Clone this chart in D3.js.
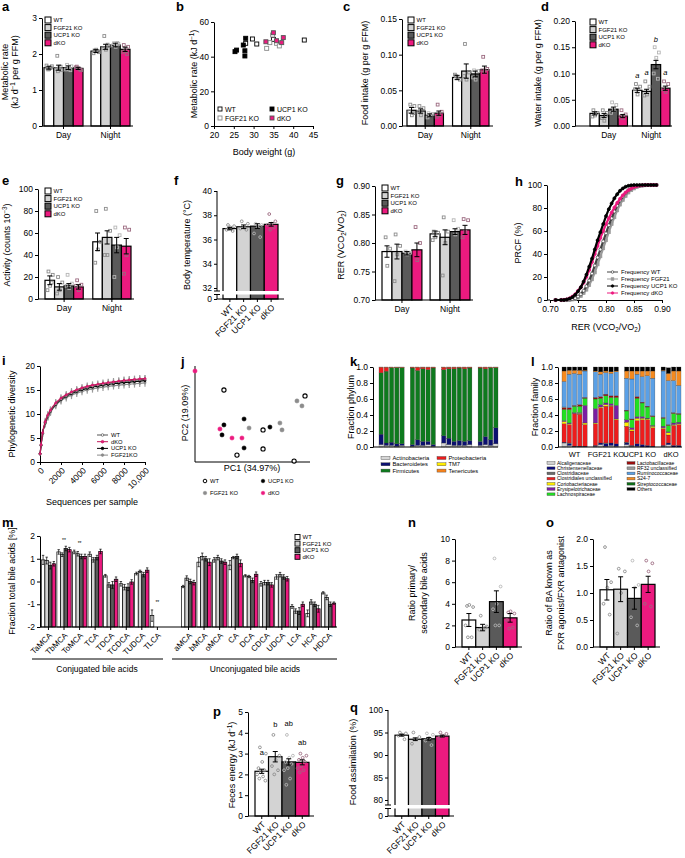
<!DOCTYPE html>
<html><head><meta charset="utf-8">
<script src="https://cdn.jsdelivr.net/npm/d3@7"></script>
<style>body{margin:0;background:#fff}svg{display:block}</style>
</head><body>
<script>
// ================= DATA =================
const genotypes=["WT","FGF21 KO","UCP1 KO","dKO"];
const periods=["Day","Night"];
const genoFill=["#ffffff","#d3d3d3","#5a5a5a","#ec1a7f"];

// a metabolic rate
const aMeans=[[1.62,1.62,1.62,1.60],[2.08,2.20,2.25,2.13]];
const aSems=[[0.04,0.07,0.05,0.03],[0.04,0.07,0.05,0.06]];
const aDots=[[[1.60,1.66,1.58,1.68,1.62,1.57],[1.95,1.55,1.60,1.58,1.65,1.52],[1.70,1.66,1.60,1.57,1.55],[1.65,1.55,1.60,1.63,1.57]],
 [[2.10,2.05,2.12,2.02,2.08],[2.50,2.22,2.12,2.16,2.26],[2.30,2.28,2.20,2.24,2.31],[2.25,2.20,2.10,2.06,2.00]]];
// b metabolic rate vs body weight
const bWTx=[28.0,29.7,30.8,35.0,42.8], bWTy=[47.7,50.2,47.3,50.0,49.6];
const bFGFx=[33.3,34.1,34.8,35.8,36.5], bFGFy=[44.8,48.1,52.5,47.7,46.2];
const bUCPx=[25.3,25.7,27.4,27.8,27.8,28.0], bUCPy=[42.9,43.8,46.7,43.4,40.4,50.6];
const bDKOx=[33.1,35.0,35.8,37.1,37.5], bDKOy=[48.6,53.8,49.2,48.1,51.0];
// c food intake
const cMeans=[[0.022,0.021,0.015,0.018],[0.068,0.077,0.073,0.079]];
const cSems=[[0.004,0.003,0.002,0.003],[0.003,0.010,0.004,0.005]];
const cDots=[[[0.030,0.028,0.015,0.020,0.018],[0.028,0.025,0.015,0.020],[0.018,0.017,0.015,0.012],[0.030,0.020,0.015,0.013]],
 [[0.070,0.065,0.067,0.072],[0.115,0.075,0.065,0.070],[0.078,0.077,0.065,0.068],[0.097,0.080,0.075,0.078]]];
// d water intake
const dMeans=[[0.024,0.020,0.032,0.019],[0.068,0.066,0.117,0.072]];
const dSems=[[0.003,0.004,0.004,0.003],[0.004,0.004,0.008,0.004]];
const dDots=[[[0.030,0.025,0.020,0.018],[0.030,0.025,0.010,0.015,0.020],[0.045,0.040,0.030,0.025],[0.030,0.022,0.015,0.018]],
 [[0.080,0.075,0.060,0.070],[0.085,0.075,0.060,0.058],[0.150,0.140,0.130,0.100,0.090],[0.085,0.080,0.065,0.070]]];
const dLetters=["a","a","b","a"], dLetterY=[0.091,0.097,0.160,0.097];
// e activity
const eMeans=[[17,11,12,11],[52,56,49,48]];
const eSems=[[4,3,2,2],[8,6,7,7]];
const eDots=[[[25,22,12,8,15],[20,15,8,5],[22,14,10,12],[17,13,8,12]],[[80,52,45,33],[82,62,40,40],[65,58,47,20],[65,63,40,23]]];
// f body temperature
const fMeans=[36.9,37.05,37.1,37.25], fSems=[0.1,0.15,0.2,0.15];
const fDots=[[37.2,37.1,37.0,36.8,36.7,36.9],[37.5,37.3,37.0,36.9,36.8],[37.3,37.2,37.0,36.5,36.2],[38.1,37.5,37.3,37.2,37.0,36.8]];
// g RER
const gMeans=[[0.785,0.785,0.782,0.788],[0.816,0.810,0.820,0.823]];
const gSems=[[0.010,0.013,0.003,0.012],[0.005,0.013,0.005,0.008]];
const gDots=[[[0.810,0.790,0.760],[0.815,0.795,0.780,0.733],[0.785,0.783,0.780],[0.828,0.800,0.770]],
 [[0.820,0.818,0.810,0.805],[0.845,0.820,0.800,0.743],[0.840,0.825,0.815],[0.842,0.840,0.820,0.810]]];
// h cumulative frequency of RER
const hRER=[0.710,0.720,0.725,0.730,0.735,0.740,0.745,0.750,0.755,0.760,0.765,0.770,0.775,0.780,0.785,0.790,0.795,0.800,0.805,0.810,0.815,0.820,0.825,0.830,0.835,0.840,0.845,0.850,0.855,0.860,0.865,0.870,0.875,0.880,0.885,0.890];
const hWT=[0,0,0,0,0.3,0.8,1.5,3,5,8,12,17,23,30,37,44,51,58,65,71,77,82,86.5,90,93,95.5,97,98.2,99,99.5,99.8,100,100,100,100,100];
const hFGF=[0,0,0,0,0.2,0.5,1,2,3.5,6,9,13,18,24,31,38,45,52,59,66,72,78,83,87,90.5,93.5,95.5,97,98.2,99,99.5,99.8,100,100,100,100];
const hUCP=[0,0,0,0.5,1.2,2.5,4.5,7.5,11,16,22,29,36,44,52,59,66,73,79,84,88.5,92,95,97,98.5,99.3,99.8,100,100,100,100,100,100,100,100,100];
const hDKO=[0,0,0.2,0.6,1.5,3,5,8,11,15,20,26,33,40,47,54,60,66,71,76,80.5,84.5,88,91,93.5,95.5,97,98.2,99,99.5,99.8,100,100,100,100,100];
// i rarefaction
const iSeq=[10,100,250,500,750,1000,1500,2000,2500,3000,3500,4000,4500,5000,5500,6000,6500,7000,7500,8000,8500,9000,9500,10000];
const iWT=[1.7,3.5,6.0,8.2,9.6,10.6,12.1,13.1,13.8,14.4,14.85,15.25,15.55,15.8,16.0,16.2,16.4,16.55,16.7,16.85,16.95,17.05,17.15,17.25];
const iDKO=[1.7,3.6,6.1,8.4,9.8,10.8,12.3,13.3,14.0,14.6,15.05,15.45,15.75,16.0,16.2,16.4,16.55,16.7,16.85,17.0,17.1,17.2,17.3,17.35];
const iUCP=[1.7,3.5,6.0,8.2,9.6,10.6,12.0,13.0,13.7,14.25,14.7,15.05,15.35,15.6,15.8,16.0,16.15,16.3,16.45,16.55,16.65,16.75,16.85,16.95];
const iFGF=[1.7,3.4,5.9,8.0,9.4,10.4,11.8,12.8,13.4,13.9,14.35,14.7,15.0,15.25,15.45,15.6,15.75,15.9,16.0,16.1,16.2,16.3,16.4,16.5];
const iSem=[0.3,0.5,0.7,0.8,0.8,0.8,0.8,0.8,0.8,0.8,0.8,0.8,0.8,0.8,0.8,0.8,0.8,0.8,0.8,0.8,0.8,0.8,0.8,0.8];
// j PCoA
const jWT1=[-0.049,0.155,0.019,0.155,0.374,0.317], jWT2=[0.175,-0.033,-0.164,-0.132,0.144,-0.195];
const jFGF1=[0.082,0.243,0.254,0.332,0.358], jFGF2=[-0.023,0.003,-0.033,0.118,0.092];
const jUCP1=[-0.049,-0.059,0.056,0.191,0.056], jUCP2=[-0.007,-0.059,0.024,-0.018,-0.127];
const jDKO1=[-0.200,-0.070,-0.007,0.045], jDKO2=[0.274,-0.028,-0.075,-0.075];
// k phyla (samples: 5 WT, 5 FGF21 KO, 6 UCP1 KO, 4 dKO)
const sampleCounts=[5,5,6,4];
const phyla=["Actinobacteria","Bacteroidetes","Firmicutes","Proteobacteria","TM7","Tenericutes"];
const phylaColor=["#d6d6d6","#0b1070","#0e7a1e","#ec1c1c","#ffec00","#f7821b"];
const kActino=[0.03,0.02,0.02,0.01,0.02, 0.01,0.02,0.02,0.03,0.01, 0.05,0.03,0.02,0.02,0.02,0.03, 0.02,0.03,0.02,0.04];
const kBactero=[0.13,0.03,0.04,0.03,0.02, 0.02,0.07,0.05,0.04,0.02, 0.09,0.08,0.05,0.06,0.05,0.05, 0.05,0.10,0.07,0.20];
const kFirmi=[0.767,0.897,0.932,0.952,0.952, 0.957,0.867,0.907,0.897,0.957, 0.827,0.867,0.907,0.907,0.907,0.907, 0.917,0.847,0.902,0.752];
const kProteo=[0.07,0.05,0.005,0.005,0.005, 0.01,0.04,0.02,0.03,0.01, 0.03,0.02,0.02,0.01,0.02,0.01, 0.01,0.02,0.005,0.005];
const kTM7=[0,0,0,0,0, 0,0,0,0,0, 0,0,0,0,0,0, 0,0,0,0];
const kTeneri=[0.003,0.003,0.003,0.003,0.003, 0.003,0.003,0.003,0.003,0.003, 0.003,0.003,0.003,0.003,0.003,0.003, 0.003,0.003,0.003,0.003];
// l families
const families=["Alcaligenaceae","Christensenellaceae","Clostridiaceae","Clostridiales unclassified","Coriobacteriaceae","Erysipelotrichaceae","Lachnospiraceae","Lactobacillaceae","RF32 unclassified","Ruminococcaceae","S24-7","Streptococcaceae","Others"];
const familyColor=["#d0d0d0","#0a0a7a","#6b6b6b","#ee1c1c","#ffee00","#7a1fa2","#22e022","#9b0d0d","#9a9a9a","#5aa0e6","#f58a1f","#0d6e16","#000000"];
const lAlc=[.05,.02,.00,.00,.00, .01,.03,.01,.02,.01, .03,.01,.01,.00,.00,.00, .01,.03,.00,.00];
const lChr=[.01,.02,.01,.01,.01, .01,.02,.03,.03,.03, .02,.01,.03,.03,.02,.01, .01,.02,.02,.02];
const lCld=[.00,.01,.00,.00,.00, .00,.00,.01,.00,.00, .01,.00,.00,.00,.00,.00, .00,.00,.00,.00];
const lClU=[.23,.23,.41,.40,.27, .27,.44,.46,.46,.30, .20,.18,.29,.31,.32,.23, .21,.10,.25,.26];
const lCor=[.03,.01,.00,.01,.02, .01,.01,.02,.01,.01, .05,.02,.03,.02,.01,.02, .01,.03,.01,.01];
const lEry=[.01,.01,.01,.01,.22, .18,.03,.02,.02,.17, .03,.02,.02,.02,.01,.01, .02,.01,.02,.02];
const lLac=[.14,.17,.08,.08,.09, .12,.08,.09,.08,.10, .11,.10,.23,.17,.14,.11, .10,.08,.12,.10];
const lLct=[.02,.02,.01,.02,.01, .02,.02,.02,.02,.02, .01,.01,.02,.01,.01,.01, .01,.01,.01,.01];
const lRF=[.01,.00,.00,.00,.00, .00,.00,.00,.00,.00, .00,.00,.00,.00,.00,.00, .00,.00,.00,.00];
const lRum=[.32,.42,.40,.38,.33, .32,.28,.27,.28,.30, .40,.50,.28,.32,.38,.47, .58,.55,.40,.35];
const lS24=[.13,.05,.04,.05,.01, .01,.03,.02,.02,.01, .09,.10,.04,.07,.06,.09, .01,.09,.12,.18];
const lStr=[0,0,0,0,0, 0,0,0,0,0, 0,0,0,0,0,0, 0,0,0,0];
const lOth=[.05,.05,.04,.04,.04, .05,.06,.06,.06,.05, .06,.05,.05,.05,.05,.05, .04,.07,.05,.05];
// m bile acids
const mConj=["TaMCA","TbMCA","ToMCA","TCA","TDCA","TCDCA","TUDCA","TLCA"];
const mUnconj=["aMCA","bMCA","oMCA","CA","DCA","CDCA","UDCA","LCA","HCA","HDCA"];
const mWT=[0.95,1.30,1.30,1.20,0.25,-0.10,0.35,-1.50, -0.22,0.85,0.95,0.72,0.25,-0.10,0.20,-1.10,-1.40,-0.50];
const mFGF=[0.92,1.18,1.22,0.95,-0.15,-0.25,0.45,null, 0.15,1.10,1.05,1.05,0.22,-0.05,0.30,-1.30,-0.90,-0.70];
const mUCP=[0.70,1.45,1.10,1.05,-0.15,-0.25,0.30,null, 0.00,1.00,0.90,1.10,0.05,-0.05,0.20,-1.30,-1.00,-1.00];
const mDKO=[0.78,1.40,1.10,1.32,0.10,-0.02,0.50,null, -0.05,0.85,0.85,0.80,0.32,-0.15,0.12,-1.00,-1.20,-0.95];
const mWTsem=[0.20,0.10,0.08,0.10,0.06,0.10,0.06,0.25, 0.05,0.20,0.10,0.20,0.05,0.10,0.10,0.08,0.15,0.05];
const mFGFsem=[0.15,0.08,0.10,0.10,0.10,0.12,0.05,null, 0.10,0.15,0.10,0.05,0.05,0.10,0.10,0.10,0.10,0.10];
const mUCPsem=[0.15,0.10,0.10,0.10,0.15,0.15,0.10,null, 0.10,0.10,0.10,0.10,0.10,0.10,0.10,0.15,0.10,0.10];
const mDKOsem=[0.10,0.10,0.10,0.10,0.10,0.10,0.10,null, 0.10,0.15,0.10,0.15,0.10,0.10,0.10,0.10,0.15,0.05];
const mSigNames=["TbMCA","ToMCA","TLCA"], mSigY=[1.75,1.62,-1.0], mSigText=["**","**","**"];
// n ratio primary/secondary
const nMeans=[2.5,1.8,4.2,2.7], nSems=[0.6,0.3,1.0,0.4];
const nDots=[[3.8,3.7,3.9,2.0,0.9,0.9],[2.9,1.9,1.7,1.6,1.8],[8.2,5.6,4.0,3.5,2.0,2.0],[3.2,3.1,3.3,2.5,1.8,1.7]];
// o FXR agonist/antagonist
const oMeans=[1.06,1.07,0.90,1.16], oSems=[0.19,0.23,0.20,0.15];
const oDots=[[1.85,1.2,1.1,0.8,0.6],[1.45,1.4,1.0,0.25],[1.6,1.15,1.1,0.55,0.4],[1.6,1.55,1.4,0.8,0.75]];
// p feces energy
const pMeans=[2.15,2.85,2.6,2.58], pSems=[0.1,0.25,0.15,0.12];
const pDots=[[3.3,3.0,2.6,2.3,2.2,2.1,2.0,1.9,1.8,1.7],[3.9,2.9,2.7,2.4,2.2,2.0],[3.9,2.9,2.8,2.6,2.5,2.3,2.2,1.8,1.5],[3.0,2.9,2.8,2.7,2.6,2.4,2.3,2.2,2.1]];
const pLetters=["a","b","ab","ab"], pLetterY=[2.93,4.28,4.33,3.41];
// q food assimilation
const qMeans=[94.4,93.5,93.6,94.2], qSems=[0.2,0.3,0.3,0.2];
const qDots=[[95.0,94.8,94.5,94.3,93.5],[95.0,94.0,93.5,92.5],[94.8,94.5,93.8,93.2,92.2],[95.0,94.7,94.3,93.8]];

// ================= DRAWING =================
const FONT="'Liberation Sans', Arial, Helvetica, sans-serif";
const svg=d3.select("body").append("svg").attr("width",685).attr("height",858).style("font-family",FONT);
const TF=8.5, LF=9;

function style(g,fs){
  g.select(".domain").attr("stroke","#000").attr("stroke-width",1);
  g.selectAll(".tick line").attr("stroke","#000").attr("stroke-width",1);
  g.selectAll(".tick text").attr("font-size",fs).attr("fill","#000").attr("font-family",FONT);
}
function yAxis(x,y,ticks,fmt,fs=TF,keepDomain=true){
  const g=svg.append("g").attr("transform",`translate(${x},0)`)
    .call(d3.axisLeft(y).tickValues(ticks).tickFormat(fmt||null).tickSize(3).tickSizeOuter(0).tickPadding(2));
  style(g,fs); if(!keepDomain) g.select(".domain").remove(); return g;
}
function hline(x0,x1,y,sw=1){svg.append("line").attr("x1",x0).attr("x2",x1).attr("y1",y).attr("y2",y).attr("stroke","#000").attr("stroke-width",sw);}
function vline(x,y0,y1,sw=1){svg.append("line").attr("x1",x).attr("x2",x).attr("y1",y0).attr("y2",y1).attr("stroke","#000").attr("stroke-width",sw);}
function xBandAxis(yPos,band,x0,x1,fs=TF,rotate=false,tickVals){
  const ax=d3.axisBottom(band).tickSize(3).tickSizeOuter(0).tickPadding(3);
  if(tickVals) ax.tickValues(tickVals);
  const g=svg.append("g").attr("transform",`translate(0,${yPos})`).call(ax);
  g.select(".domain").remove();
  hline(x0,x1,yPos);
  style(g,fs);
  if(rotate) g.selectAll(".tick text").attr("text-anchor","end").attr("x",0).attr("y",0).attr("dy","0.35em")
     .attr("transform","translate(2,7) rotate(-45)");
  return g;
}
function rich(x,y,parts,o={}){
  const fs=o.fs||LF;
  const t=svg.append("text").attr("x",x).attr("y",y).attr("font-size",fs).attr("text-anchor",o.anchor||"middle").attr("fill",o.fill||"#000");
  if(o.rot) t.attr("transform",`rotate(-90,${x},${y})`);
  if(o.bold) t.attr("font-weight","bold");
  if(o.italic) t.attr("font-style","italic");
  if(typeof parts==="string") parts=[[parts,""]];
  let cur=0;
  parts.forEach(([s,k])=>{
    const target=k==="sup"?-fs*0.38:k==="sub"?fs*0.25:0;
    const ts=t.append("tspan").text(s).attr("dy",target-cur);
    if(k) ts.attr("font-size",fs*0.7);
    cur=target;
  });
  return t;
}
function panelLabel(x,y,s){rich(x,y,s,{fs:13,bold:true,anchor:"start"});}
function marker(shape,x,y,r,fill,stroke,sw=0.9){
  if(shape==="sq") svg.append("rect").attr("x",x-r).attr("y",y-r).attr("width",2*r).attr("height",2*r).attr("fill",fill).attr("stroke",stroke).attr("stroke-width",sw);
  else svg.append("circle").attr("cx",x).attr("cy",y).attr("r",r).attr("fill",fill).attr("stroke",stroke).attr("stroke-width",sw);
}
function bar(x,w,y,base,val,fill,sw=1.2){
  svg.append("rect").attr("x",x).attr("y",y(val)).attr("width",w).attr("height",y(base)-y(val))
    .attr("fill",fill).attr("stroke","#000").attr("stroke-width",sw);
}
function errbar(cx,y,m,s,cap=2.5,sw=1){
  const p=d3.path();
  p.moveTo(cx,y(m-s));p.lineTo(cx,y(m+s));
  p.moveTo(cx-cap,y(m+s));p.lineTo(cx+cap,y(m+s));
  p.moveTo(cx-cap,y(m-s));p.lineTo(cx+cap,y(m-s));
  svg.append("path").attr("d",p.toString()).attr("stroke","#000").attr("stroke-width",sw).attr("fill","none");
}
function dotsOn(cx,w,y,vals,shape,gi){
  const stroke=gi===2?"#b5b5b5":gi===3?"#9c6a80":"#8c8c8c";
  vals.forEach((v,i)=>{
    const xo=(((i*0.618+0.31)%1)-0.5)*w*0.72;
    marker(shape,cx+xo,y(v),1.4,"none",stroke,0.9);
  });
}
function genoLegend(x,yc,sp,size=6,fs=6){
  genotypes.forEach((gname,i)=>{
    const cy=yc+i*sp;
    svg.append("rect").attr("x",x).attr("y",cy-size/2).attr("width",size).attr("height",size)
      .attr("fill",genoFill[i]).attr("stroke","#000").attr("stroke-width",1);
    svg.append("text").attr("x",x+size+2.5).attr("y",cy).attr("dy","0.35em").attr("font-size",fs).text(gname);
  });
}
function twoGroup(o){
  const outer=d3.scaleBand().domain(periods).range(o.xr).paddingInner(o.pad);
  const inner=d3.scaleBand().domain(genotypes).range([0,outer.bandwidth()]);
  periods.forEach((p,pi)=>genotypes.forEach((gname,gi)=>{
    const x=outer(p)+inner(gname), w=inner.bandwidth();
    bar(x,w,o.y,o.base,o.means[pi][gi],genoFill[gi]);
  }));
  periods.forEach((p,pi)=>genotypes.forEach((gname,gi)=>{
    const x=outer(p)+inner(gname), w=inner.bandwidth();
    dotsOn(x+w/2,w,o.y,o.dots[pi][gi],o.shape,gi);
    errbar(x+w/2,o.y,o.means[pi][gi],o.sems[pi][gi]);
  }));
  yAxis(o.axisX,o.y,o.ticks,o.fmt);
  xBandAxis(o.y(o.base),outer,o.axisX,o.axisR);
  return {outer,inner};
}
function oneGroup(o){
  const band=d3.scaleBand().domain(genotypes).range(o.xr);
  genotypes.forEach((gname,gi)=>bar(band(gname),band.bandwidth(),o.y,o.base,o.means[gi],genoFill[gi]));
  genotypes.forEach((gname,gi)=>{
    const cx=band(gname)+band.bandwidth()/2;
    dotsOn(cx,band.bandwidth(),o.y,o.dots[gi],o.shape,gi);
    errbar(cx,o.y,o.means[gi],o.sems[gi]);
  });
  return band;
}

// ---------- a
panelLabel(2,11,"a");
{
  const y=d3.scaleLinear().domain([0,3]).range([126,18]);
  twoGroup({xr:[44,130],pad:0.17,y,base:0,means:aMeans,sems:aSems,dots:aDots,shape:"sq",axisX:42,axisR:133,ticks:[0,1,2,3],fmt:d3.format("d")});
  genoLegend(45,20,7.6);
  rich(8,72,"Metabolic rate",{rot:true});
  rich(18,72,[["(kJ d",""],["−1","sup"],[" per g FFM)",""]],{rot:true});
}
// ---------- b
panelLabel(176,11,"b");
{
  const x=d3.scaleLinear().domain([20,45]).range([214,313]);
  const y=d3.scaleLinear().domain([0,60]).range([126,22]);
  const gx=svg.append("g").attr("transform","translate(0,126)").call(d3.axisBottom(x).tickValues([20,25,30,35,40,45]).tickSize(3).tickSizeOuter(0).tickPadding(3));
  style(gx,TF);
  yAxis(214,y,[0,20,40,60],d3.format("d"));
  const sets=[[bWTx,bWTy,"#fff","#000"],[bFGFx,bFGFy,"#fff","#8a8a8a"],[bUCPx,bUCPy,"#000","#000"],[bDKOx,bDKOy,"#ec1a7f","#555"]];
  sets.forEach(([xs,ys,f,s])=>xs.forEach((v,i)=>marker("sq",x(v),y(ys[i]),2,f,s,0.9)));
  const leg=[["WT",220,109,"#fff","#000"],["FGF21 KO",220,118,"#fff","#8a8a8a"],["UCP1 KO",272,109,"#000","#000"],["dKO",272,118,"#ec1a7f","#555"]];
  leg.forEach(([t,lx,ly,f,s])=>{marker("sq",lx,ly,2,f,s,0.9);rich(lx+5,ly+2.5,t,{fs:7,anchor:"start"});});
  rich(264,155,"Body weight (g)");
  rich(197,74,[["Metabolic rate (kJ d",""],["−1","sup"],[")",""]],{rot:true});
}
// ---------- c
panelLabel(343,11,"c");
{
  const y=d3.scaleLinear().domain([0,0.15]).range([126,19]);
  twoGroup({xr:[407,489],pad:0.2,y,base:0,means:cMeans,sems:cSems,dots:cDots,shape:"sq",axisX:402,axisR:493,ticks:[0,0.05,0.10,0.15],fmt:d3.format(".2f")});
  genoLegend(408,20,7.6);
  rich(368,73,"Food intake (g per g FFM)",{rot:true});
}
// ---------- d
panelLabel(541,11,"d");
{
  const y=d3.scaleLinear().domain([0,0.2]).range([126,21]);
  const {outer,inner}=twoGroup({xr:[590,670],pad:0.12,y,base:0,means:dMeans,sems:dSems,dots:dDots,shape:"sq",axisX:575,axisR:672,ticks:[0,0.05,0.10,0.15,0.20],fmt:d3.format(".2f")});
  genoLegend(590,22,7.6);
  genotypes.forEach((gname,gi)=>rich(outer("Night")+inner(gname)+inner.bandwidth()/2,y(dLetterY[gi]),dLetters[gi],{fs:7.5,italic:true}));
  rich(541,73,"Water intake (g per g FFM)",{rot:true});
}
// ---------- e
panelLabel(2,185,"e");
{
  const y=d3.scaleLinear().domain([0,100]).range([299,189]);
  twoGroup({xr:[45,131],pad:0.2,y,base:0,means:eMeans,sems:eSems,dots:eDots,shape:"sq",axisX:38,axisR:134,ticks:[0,20,40,60,80,100],fmt:d3.format("d")});
  genoLegend(45,191,7.6);
  rich(10,245,[["Activity (counts 10",""],["−3","sup"],[")",""]],{rot:true});
}
// ---------- f
panelLabel(174,185,"f");
{
  const y=d3.scaleLinear().domain([0,32,40]).range([299,288,191]);
  const band=oneGroup({xr:[223,278],y,base:0,means:fMeans,sems:fSems,dots:fDots,shape:"ci"});
  svg.append("rect").attr("x",219).attr("y",291).attr("width",62).attr("height",3.5).attr("fill","#fff");
  yAxis(217,y,[0,32,34,36,38,40],d3.format("d"),TF,false);
  vline(217,y(40),291); vline(217,294.5,299);
  hline(214,220,291); hline(214,220,294.5);
  xBandAxis(299,band,217,284,TF,true);
  rich(190,245,"Body temperature (°C)",{rot:true});
}
// ---------- g
panelLabel(336,185,"g");
{
  const y=d3.scaleLinear().domain([0.70,0.90]).range([300,186]);
  twoGroup({xr:[382,470],pad:0.17,y,base:0.70,means:gMeans,sems:gSems,dots:gDots,shape:"sq",axisX:375,axisR:473,ticks:[0.70,0.75,0.80,0.85,0.90],fmt:d3.format(".2f")});
  genoLegend(382,188,7.6);
  rich(344,245,[["RER (VCO",""],["2","sub"],["/VO",""],["2","sub"],[")",""]],{rot:true});
}
// ---------- h
panelLabel(515,186,"h");
{
  const x=d3.scaleLinear().domain([0.70,0.90]).range([550,662]);
  const y=d3.scaleLinear().domain([0,100]).range([300,185]);
  const gx=svg.append("g").attr("transform","translate(0,300)").call(d3.axisBottom(x).tickValues([0.70,0.75,0.80,0.85,0.90]).tickFormat(d3.format(".2f")).tickSize(3).tickSizeOuter(0).tickPadding(3));
  style(gx,TF);
  hline(547,550,300);
  yAxis(547,y,[0,20,40,60,80,100],d3.format("d"));
  const series=[[hFGF,"#9a9a9a","sq","#9a9a9a"],[hWT,"#444","ci","#fff"],[hDKO,"#ec1a7f","ci","#ec1a7f"],[hUCP,"#000","ci","#000"]];
  const line=d3.line().x((d,i)=>x(hRER[i])).y(d=>y(d));
  series.forEach(([arr,col,shp,fill])=>{
    svg.append("path").attr("d",line(arr)).attr("fill","none").attr("stroke",col).attr("stroke-width",2.2);
    arr.forEach((v,i)=>marker(shp,x(hRER[i]),y(v),1.5,fill,col,0.7));
  });
  const leg=[["Frequency WT","#444","ci","#fff"],["Frequency FGF21","#9a9a9a","sq","#9a9a9a"],["Frequency UCP1 KO","#000","ci","#000"],["Frequency dKO","#ec1a7f","ci","#ec1a7f"]];
  leg.forEach(([t,col,shp,fill],i)=>{
    const ly=272+i*7;
    svg.append("line").attr("x1",607).attr("x2",618).attr("y1",ly).attr("y2",ly).attr("stroke",col).attr("stroke-width",1);
    marker(shp,612.5,ly,1.3,fill,col,0.7);
    rich(621,ly+2,t,{fs:6,anchor:"start"});
  });
  rich(606,330,[["RER (VCO",""],["2","sub"],["/VO",""],["2","sub"],[")",""]]);
  rich(521,243,"PRCF (%)",{rot:true});
}
// ---------- i
panelLabel(2,365,"i");
{
  const x=d3.scaleLinear().domain([0,10000]).range([40,145]);
  const y=d3.scaleLinear().domain([0,20]).range([462,366]);
  const gx=svg.append("g").attr("transform","translate(0,462)").call(d3.axisBottom(x).tickValues([0,2000,4000,6000,8000,10000]).tickFormat(d=>d===10000?"10,000":String(d)).tickSize(3).tickSizeOuter(0));
  style(gx,TF);
  gx.selectAll(".tick text").attr("text-anchor","end").attr("x",0).attr("y",0).attr("dy","0.35em").attr("transform","translate(2,7) rotate(-45)");
  yAxis(40,y,[0,5,10,15,20],d3.format("d"));
  const series=[[iFGF,"#8a8a8a","ci","#8a8a8a"],[iUCP,"#000","ci","#000"],[iWT,"#555","ci","#fff"],[iDKO,"#c2185b","ci","#ec1a7f"]];
  const line=d3.line().curve(d3.curveMonotoneX).x((d,i)=>x(iSeq[i])).y(d=>y(d));
  series.forEach(([arr])=>arr.forEach((v,i)=>{
    svg.append("line").attr("x1",x(iSeq[i])).attr("x2",x(iSeq[i])).attr("y1",y(v-iSem[i])).attr("y2",y(v+iSem[i])).attr("stroke","#9a9a9a").attr("stroke-width",1.2);
  }));
  series.forEach(([arr,col,shp,fill])=>{
    svg.append("path").attr("d",line(arr)).attr("fill","none").attr("stroke",col).attr("stroke-width",1.2);
    arr.forEach((v,i)=>marker(shp,x(iSeq[i]),y(v),1.1,fill,col,0.6));
  });
  const leg=[["WT","#555","ci","#fff"],["dKO","#c2185b","ci","#ec1a7f"],["UCP1 KO","#000","ci","#000"],["FGF21KO","#8a8a8a","ci","#8a8a8a"]];
  leg.forEach(([t,col,shp,fill],i)=>{
    const ly=435+i*6.7;
    svg.append("line").attr("x1",97).attr("x2",108).attr("y1",ly).attr("y2",ly).attr("stroke",col).attr("stroke-width",1);
    marker(shp,102.5,ly,1.3,fill,col,0.7);
    rich(111,ly+2,t,{fs:5.8,anchor:"start"});
  });
  rich(92,505,"Sequences per sample");
  rich(15,414,"Phylogenetic diversity",{rot:true});
}
// ---------- j
panelLabel(181,366,"j");
{
  const x=d3.scaleLinear().domain([-0.2,0.4]).range([195,310]);
  const y=d3.scaleLinear().domain([-0.2,0.3]).range([462,366]);
  vline(195,366,462); hline(195,310,462);
  const sets=[[jWT1,jWT2,"#fff","#000",1.1],[jFGF1,jFGF2,"#8c8c8c","#8c8c8c",0.5],[jUCP1,jUCP2,"#000","#000",0.5],[jDKO1,jDKO2,"#ec1a7f","#ec1a7f",0.5]];
  sets.forEach(([xs,ys,f,s,sw])=>xs.forEach((v,i)=>marker("ci",x(v),y(ys[i]),2.1,f,s,sw)));
  const leg=[["WT",205,481,"#fff","#000",1],["FGF21 KO",205,493,"#8c8c8c","#8c8c8c",0.5],["UCP1 KO",263,481,"#000","#000",0.5],["dKO",263,493,"#ec1a7f","#ec1a7f",0.5]];
  leg.forEach(([t,lx,ly,f,s,sw])=>{marker("ci",lx,ly,1.8,f,s,sw);rich(lx+5,ly+2,t,{fs:5.8,anchor:"start"});});
  rich(252,471,"PC1 (34.97%)");
  rich(188,413,"PC2 (19.09%)",{rot:true});
}
// ---------- k & l sample slots
const groupNames=["WT","FGF21 KO","UCP1 KO","dKO"];
const slots=[]; const sampleSlot=[];
sampleCounts.forEach((n,gi)=>{ if(gi>0) slots.push("gap"+gi); for(let s=0;s<n;s++){const id=groupNames[gi]+"#"+s; slots.push(id); sampleSlot.push(id);} });
function stackPanel(x0,x1,keys,arrays,colors){
  const band=d3.scaleBand().domain(slots).range([x0,x1]).paddingInner(0.18);
  const y=d3.scaleLinear().domain([0,1]).range([447,367]);
  const rows=sampleSlot.map((id,si)=>{const o={id}; keys.forEach((k,ki)=>o[k]=arrays[ki][si]); return o;});
  const st=d3.stack().keys(keys)(rows);
  st.forEach((layer,ki)=>layer.forEach(d=>{
    svg.append("rect").attr("x",band(d.data.id)).attr("width",band.bandwidth())
      .attr("y",y(Math.min(d[1],1))).attr("height",Math.max(0,y(d[0])-y(Math.min(d[1],1))))
      .attr("fill",colors[ki]).attr("stroke","#333").attr("stroke-width",0.25);
  }));
  return {band,y};
}
// ---------- k
panelLabel(350,366,"k");
{
  const {y}=stackPanel(379,498,phyla,[kActino,kBactero,kFirmi,kProteo,kTM7,kTeneri],phylaColor);
  yAxis(373,y,[0,0.2,0.4,0.6,0.8,1.0],d3.format(".1f"));
  hline(373,498,447);
  const cols=[[381,[0,1,2]],[437,[3,4,5]]];
  cols.forEach(([cx,idx])=>idx.forEach((ki,r)=>{
    const ly=458+r*6.3;
    svg.append("rect").attr("x",cx).attr("y",ly-1.5).attr("width",9).attr("height",3).attr("fill",phylaColor[ki]).attr("stroke","#444").attr("stroke-width",0.4);
    rich(cx+11.5,ly+2,phyla[ki],{fs:5.8,anchor:"start"});
  }));
  rich(354,407,"Fraction phylum",{rot:true});
}
// ---------- l
panelLabel(531,366,"l");
{
  const {band,y}=stackPanel(562,681,families,[lAlc,lChr,lCld,lClU,lCor,lEry,lLac,lLct,lRF,lRum,lS24,lStr,lOth],familyColor);
  yAxis(558,y,[0,0.2,0.4,0.6,0.8,1.0],d3.format(".1f"));
  hline(558,682,447);
  groupNames.forEach((gname,gi)=>{
    const ids=sampleSlot.filter(s=>s.startsWith(gname+"#"));
    const xa=band(ids[0]), xb=band(ids[ids.length-1])+band.bandwidth();
    rich((xa+xb)/2,457,gname,{fs:7.5});
  });
  families.forEach((f,ki)=>{
    const col=ki<7?0:1, r=ki<7?ki:ki-7;
    const cx=col===0?547:627, ly=463+r*5.2;
    svg.append("rect").attr("x",cx).attr("y",ly-1.3).attr("width",8).attr("height",2.6).attr("fill",familyColor[ki]).attr("stroke","#444").attr("stroke-width",0.4);
    rich(cx+10,ly+1.8,f,{fs:5,anchor:"start"});
  });
  rich(538,407,"Fraction family",{rot:true});
}
// ---------- m
panelLabel(2,527,"m");
{
  const allNames=[...mConj,"gap",...mUnconj];
  const outer=d3.scaleBand().domain(allNames).range([41,336]).paddingInner(0.08).paddingOuter(0.02);
  const inner=d3.scaleBand().domain(genotypes).range([0,outer.bandwidth()]);
  const y=d3.scaleLinear().domain([-2,2]).range([627,536]);
  const names=[...mConj,...mUnconj];
  const vals=[mWT,mFGF,mUCP,mDKO], sems=[mWTsem,mFGFsem,mUCPsem,mDKOsem];
  names.forEach((nm,ni)=>genotypes.forEach((gname,gi)=>{
    const v=vals[gi][ni]; if(v===null) return;
    bar(outer(nm)+inner(gname),inner.bandwidth(),y,-2,v,genoFill[gi],0.7);
  }));
  names.forEach((nm,ni)=>genotypes.forEach((gname,gi)=>{
    const v=vals[gi][ni]; if(v===null) return;
    errbar(outer(nm)+inner(gname)+inner.bandwidth()/2,y,v,sems[gi][ni],1.2,0.7);
  }));
  mSigNames.forEach((nm,i)=>rich(outer(nm)+outer.bandwidth()/2,y(mSigY[i]),mSigText[i],{fs:5}));
  yAxis(40,y,[-2,-1,0,1,2],d=>String(d));
  xBandAxis(627,outer,40,337,8,true,names);
  hline(32,163,659); hline(172,337,659);
  rich(97,672,"Conjugated bile acids",{fs:8.5});
  rich(255,672,"Unconjugated bile acids",{fs:8.5});
  genotypes.forEach((gname,i)=>{
    const cy=537+i*6.6;
    svg.append("rect").attr("x",295).attr("y",cy-2.5).attr("width",5).attr("height",5).attr("fill",genoFill[i]).attr("stroke","#000").attr("stroke-width",0.9);
    rich(302.5,cy+2,gname,{fs:6,anchor:"start"});
  });
  rich(15,581,"Fraction total bile acids [%]",{rot:true});
}
// ---------- n
panelLabel(408,527,"n");
{
  const y=d3.scaleLinear().domain([0,10]).range([647,539]);
  const band=oneGroup({xr:[462,517],y,base:0,means:nMeans,sems:nSems,dots:nDots,shape:"ci"});
  yAxis(455,y,[0,2,4,6,8,10],d3.format("d"));
  xBandAxis(647,band,455,522,TF,true);
  rich(415,593,"Ratio primary/",{rot:true});
  rich(427,593,"secondary bile acids",{rot:true});
}
// ---------- o
panelLabel(546,527,"o");
{
  const y=d3.scaleLinear().domain([0,2]).range([647,539]);
  const band=oneGroup({xr:[600,655],y,base:0,means:oMeans,sems:oSems,dots:oDots,shape:"ci"});
  yAxis(593,y,[0,0.5,1.0,1.5,2.0],d3.format(".1f"));
  xBandAxis(647,band,593,660,TF,true);
  rich(552,593,"Ratio of BA known as",{rot:true});
  rich(564,593,"FXR agonist/FXR antagonist",{rot:true});
}
// ---------- p
panelLabel(213,716,"p");
{
  const y=d3.scaleLinear().domain([0,5]).range([816,712]);
  const band=oneGroup({xr:[255,309],y,base:0,means:pMeans,sems:pSems,dots:pDots,shape:"ci"});
  genotypes.forEach((gname,gi)=>rich(band(gname)+band.bandwidth()/2,y(pLetterY[gi]),pLetters[gi],{fs:7.5}));
  yAxis(248,y,[0,1,2,3,4,5],d3.format("d"));
  xBandAxis(816,band,248,314,TF,true);
  rich(235,765,[["Feces energy (kJ d",""],["−1","sup"],[")",""]],{rot:true});
}
// ---------- q
panelLabel(350,712,"q");
{
  const y=d3.scaleLinear().domain([0,80,100]).range([816,800,710]);
  const band=oneGroup({xr:[395,449],y,base:0,means:qMeans,sems:qSems,dots:qDots,shape:"ci"});
  svg.append("rect").attr("x",391).attr("y",805).attr("width",62).attr("height",3.5).attr("fill","#fff");
  yAxis(388,y,[0,80,85,90,95,100],d3.format("d"),TF,false);
  vline(388,y(100),805); vline(388,808.5,816);
  hline(385,391,805); hline(385,391,808.5);
  xBandAxis(816,band,388,454,TF,true);
  rich(356,762,"Food assimilation (%)",{rot:true});
}
</script>
</body></html>
